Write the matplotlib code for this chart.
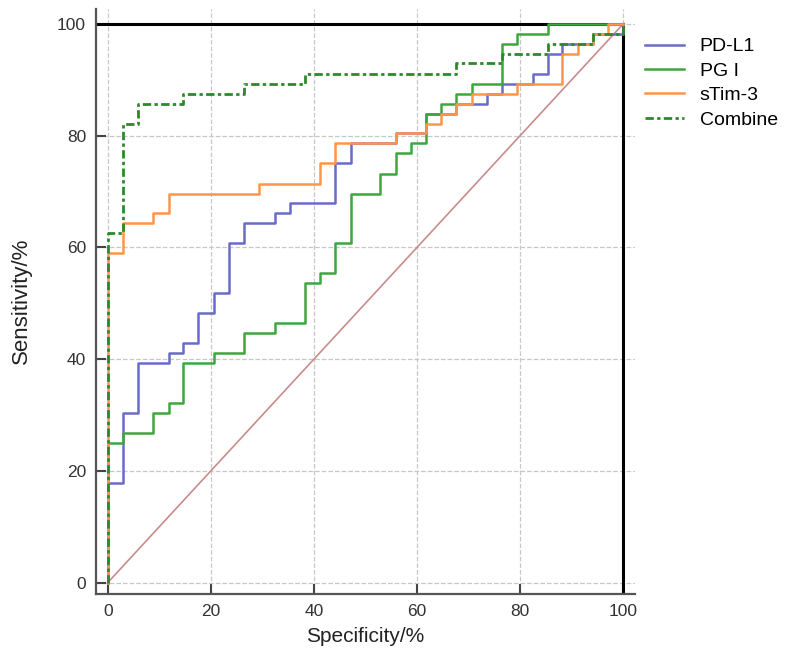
import matplotlib
matplotlib.use("Agg")
import matplotlib.pyplot as plt

plt.rcParams['font.family'] = ['Liberation Sans', 'DejaVu Sans']

# ROC step points: at each x the curve climbs to y
pdl1_x = [0, 0, 2.9, 5.9, 11.8, 14.7, 17.6, 20.6, 23.5, 26.5, 32.4, 35.3, 44.1, 47.1,
          55.9, 61.8, 67.6, 73.5, 76.5, 82.4, 85.3, 88.2, 94.1, 100]
pdl1_y = [0, 17.9, 30.4, 39.3, 41.1, 42.9, 48.2, 51.8, 60.7, 64.3, 66.1, 67.9, 75.0, 78.6,
          80.4, 83.9, 85.7, 87.5, 89.3, 91.1, 94.6, 96.4, 98.2, 100]

pg1_x = [0, 0, 2.9, 8.8, 11.8, 14.7, 20.6, 26.5, 32.4, 38.2, 41.2, 44.1, 47.1, 52.9,
         55.9, 58.8, 61.8, 64.7, 67.6, 70.6, 76.5, 79.4, 85.3, 100]
pg1_y = [0, 25.0, 26.8, 30.4, 32.1, 39.3, 41.1, 44.6, 46.4, 53.6, 55.4, 60.7, 69.6, 73.2,
         76.8, 78.6, 83.9, 85.7, 87.5, 89.3, 96.4, 98.2, 100, 100]

stim3_x = [0, 0, 2.9, 8.8, 11.8, 29.4, 41.2, 44.1, 55.9, 61.8, 64.7, 67.6, 70.6, 79.4,
           88.2, 91.2, 94.1, 97.1, 100]
stim3_y = [0, 58.9, 64.3, 66.1, 69.6, 71.4, 75.0, 78.6, 80.4, 82.1, 83.9, 85.7, 87.5, 89.3,
           94.6, 96.4, 98.2, 100, 100]

comb_x = [0, 0, 2.9, 5.9, 14.7, 26.5, 38.2, 67.6, 76.5, 85.3, 94.1, 100]
comb_y = [0, 62.5, 82.1, 85.7, 87.5, 89.3, 91.1, 92.9, 94.6, 96.4, 98.2, 100]

ticks = [0, 20, 40, 60, 80, 100]

fig = plt.figure(figsize=(7.92, 6.68), dpi=100)
ax = fig.add_axes([0.121, 0.111, 0.681, 0.876])

ax.grid(True, linestyle='--', color='#c8c8c8', linewidth=0.9)
ax.set_axisbelow(True)

ax.plot([0, 100], [0, 100], color='#c98b8b', linewidth=1.2)
ax.plot([-2.3, 100], [100, 100], color='black', linewidth=2.2)
ax.plot([100, 100], [-2, 100], color='black', linewidth=2.2)

ax.step(pdl1_x, pdl1_y, where='post', color='#6a6ac8', linewidth=1.8, label='PD-L1')
ax.step(pg1_x, pg1_y, where='post', color='#3da63d', linewidth=1.8, label='PG I')
ax.step(stim3_x, stim3_y, where='post', color='#ff9548', linewidth=1.8, label='sTim-3')
ax.step(comb_x, comb_y, where='post', color='#2a8a2a', linewidth=2,
        linestyle=(0, (3, 1.2, 1.2, 1.2)), label='Combine')

ax.set_xlim(-2.3, 102.3)
ax.set_ylim(-2, 102.7)
ax.set_xticks(ticks)
ax.set_yticks(ticks)
ax.tick_params(direction='in', length=7, width=1.5, colors='#444444',
               labelsize=12.5, labelcolor='#333333', pad=7)
for s in ['top', 'right']:
    ax.spines[s].set_visible(False)
for s in ['left', 'bottom']:
    ax.spines[s].set_color('#555555')
    ax.spines[s].set_linewidth(1.6)

ax.set_xlabel('Specificity/%', fontsize=15, color='#222222', labelpad=6)
ax.set_ylabel('Sensitivity/%', fontsize=16, color='#222222', labelpad=18)

ax.legend(loc='upper left', bbox_to_anchor=(0.805, 0.955), bbox_transform=fig.transFigure,
          frameon=False, fontsize=14, handlelength=2.0, labelspacing=0.35, borderaxespad=0)

fig.savefig('out.png', dpi=100)
